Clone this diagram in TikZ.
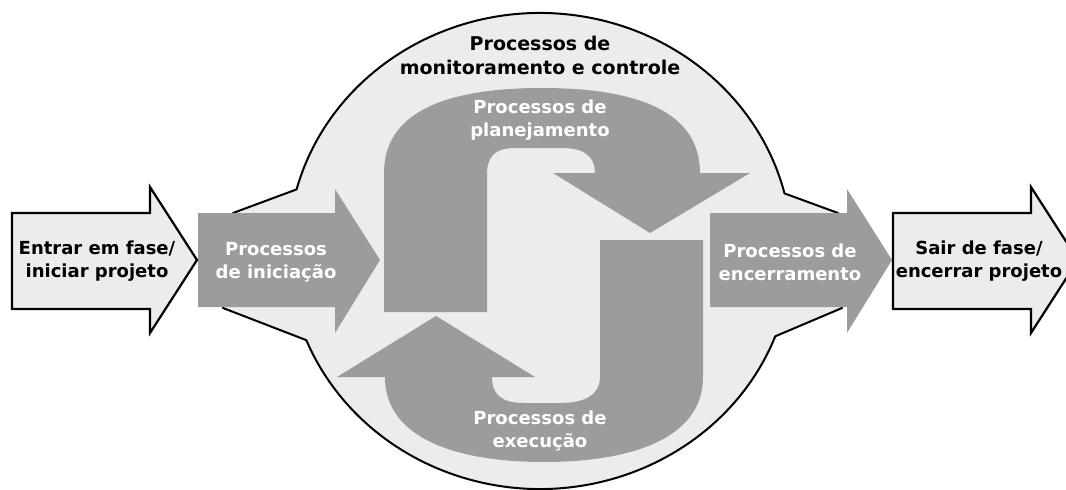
\documentclass[tikz,border=0pt]{standalone}
\usepackage{fontspec}
\setmainfont{DejaVu Sans}
\usetikzlibrary{calc}
\definecolor{pale}{RGB}{235,236,236}
\definecolor{procgray}{RGB}{155,156,158}

\begin{document}
\begin{tikzpicture}[x=1pt,y=-1pt,
	blob/.style={fill=pale,draw=black,line width=2pt,line join=round},
	proc/.style={fill=procgray},
	phase/.style={fill=pale,draw=black,line width=2.2pt,line join=miter},
	lbl/.style={font=\bfseries\fontsize{18}{23}\selectfont,align=center,text=white},
	dark/.style={lbl,text=black}]
	\useasboundingbox (0,0) rectangle (1066,490);
	\coordinate (c) at (540,251);
	% monitoring blob
	\draw[blob] (233,213) -- ($(c)+(195:252 and 238)$)
		arc[start angle=195,end angle=346,x radius=252,y radius=238]
		-- (838,213) -- (842,308) -- ($(c)+(21:252 and 238)$)
		arc[start angle=21,end angle=158,x radius=252,y radius=238]
		-- (223,308) -- cycle;
	% initiation and closing
	\foreach \x in {198,710}
		\fill[proc] (\x,213) -- (\x+137,213) -- (\x+137,189) -- (\x+182,260)
			-- (\x+137,333) -- (\x+137,307) -- (\x,307) -- cycle;
	% planning
	\fill[proc] (384,312) -- (384,173) .. controls (384,110) and (450,88) .. (542,88)
		.. controls (634,88) and (700,110) .. (700,173) -- (750,173) -- (650,233)
		-- (553,173) -- (595,173) .. controls (595,156) and (584,148) .. (562,148)
		-- (515,148) .. controls (495,148) and (487,156) .. (487,175) -- (487,312) -- cycle;
	% execution
	\fill[proc] (600,240) -- (703,240) -- (703,377) .. controls (703,440) and (628,462) .. (544,462)
		.. controls (460,462) and (385,440) .. (385,377) -- (337,377) -- (436,316)
		-- (535,377) -- (492,377) .. controls (492,396) and (503,403) .. (525,403)
		-- (560,403) .. controls (585,403) and (600,395) .. (600,377) -- cycle;
	% enter and leave
	\foreach \x in {12,893}
		\draw[phase] (\x,213) -- (\x+138,213) -- (\x+138,187) -- (\x+185,260)
			-- (\x+138,333) -- (\x+138,309) -- (\x,309) -- cycle;

	\node[dark] (enter) at (97,261) {Entrar em fase/\\iniciar projeto};
	\node[dark] (leave) at (979,261) {Sair de fase/\\encerrar projeto};
	\node[dark,font=\bfseries\fontsize{19}{24}\selectfont] (monitor) at (540,55) {Processos de\\monitoramento e controle};
	\node[lbl] (init) at (276,262) {Processos\\de iniciação};
	\node[lbl] (close) at (790,262) {Processos de\\encerramento};
	\node[lbl] (plan) at (540,120) {Processos de\\planejamento};
	\node[lbl] (exec) at (540,431) {Processos de\\execução};
\end{tikzpicture}
\end{document}
